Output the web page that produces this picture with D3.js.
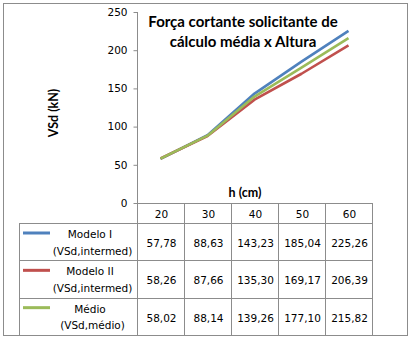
<!DOCTYPE html>
<html>
<head>
<meta charset="utf-8">
<script src="https://cdn.jsdelivr.net/npm/d3@7"></script>
<style>
  html, body { margin: 0; padding: 0; background: #fff; }
  svg { display: block; }
  text { font-family: "DejaVu Sans", sans-serif; fill: #000; }
</style>
</head>
<body>
<svg id="chart" width="413" height="340"></svg>
<script>
// Heights (cm) shown on the category axis / table header
const heights = ["20", "30", "40", "50", "60"];

// Series values (kN)
const modeloI  = [57.78, 88.63, 143.23, 185.04, 225.26];
const modeloII = [58.26, 87.66, 135.30, 169.17, 206.39];
const medio    = [58.02, 88.14, 139.26, 177.10, 215.82];

// Series labels (two lines each) and colours
const seriesNames = [["Modelo I", "(VSd,intermed)"], ["Modelo II", "(VSd,intermed)"], ["Médio", "(VSd,médio)"]];
const seriesColors = ["#4F81BD", "#C0504D", "#9BBB59"];

const yTicks = [0, 50, 100, 150, 200, 250];

const titleLines = ["Força cortante solicitante de", "cálculo média x Altura"];
const yTitle = "VSd (kN)";
const xTitle = "h (cm)";

const series = [modeloI, modeloII, medio].map((values, i) => ({
  values, name: seriesNames[i], color: seriesColors[i]
}));

const fmt = v => v.toFixed(2).replace(".", ",");

const svg = d3.select("#chart");
const gridColor = "#8c8c8c";

// Layout
const plotLeft = 137, plotRight = 372, plotTop = 12, plotBottom = 203;
const tableLeft = 19, headerBottom = 223, tableBottom = 335;
const rowH = (tableBottom - headerBottom) / series.length;

const x = d3.scaleBand().domain(heights).range([plotLeft, plotRight]).padding(0);
const y = d3.scaleLinear().domain([0, 250]).range([plotBottom, plotTop]);

// Outer chart border
svg.append("rect")
  .attr("x", 3.5).attr("y", 3.5).attr("width", 404).attr("height", 332)
  .attr("fill", "#fff").attr("stroke", gridColor).attr("stroke-width", 1);

// Y axis
const yAxis = d3.axisLeft(y).tickValues(yTicks).tickSize(4).tickPadding(6).tickFormat(d3.format("d"));
const gy = svg.append("g").attr("transform", `translate(${plotLeft + 0.5},0)`).call(yAxis);
gy.select(".domain").attr("stroke", gridColor).attr("d", `M0,${plotTop}V${tableBottom}`);
gy.selectAll(".tick line").attr("stroke", gridColor);
gy.selectAll(".tick text").style("font-family", "DejaVu Sans").style("font-size", "10.5px").attr("fill", "#000");

// Table grid
const tg = svg.append("g").attr("stroke", gridColor).attr("stroke-width", 1).attr("shape-rendering", "crispEdges");
// x axis / header top
tg.append("line").attr("x1", plotLeft).attr("x2", plotRight).attr("y1", plotBottom + 0.5).attr("y2", plotBottom + 0.5);
// horizontal row lines
for (let i = 0; i <= series.length; i++) {
  const yy = Math.round(headerBottom + i * rowH) + 0.5;
  tg.append("line").attr("x1", tableLeft).attr("x2", plotRight).attr("y1", yy).attr("y2", yy);
}
// vertical column lines
heights.forEach(h => {
  const xx = Math.round(x(h) + x.bandwidth()) + 0.5;
  tg.append("line").attr("x1", xx).attr("x2", xx).attr("y1", plotBottom).attr("y2", tableBottom);
});
tg.append("line").attr("x1", tableLeft + 0.5).attr("x2", tableLeft + 0.5).attr("y1", headerBottom).attr("y2", tableBottom);

// Header labels
svg.append("g").selectAll("text").data(heights).join("text")
  .attr("x", d => x(d) + x.bandwidth() / 2 + 1)
  .attr("y", 218)
  .attr("text-anchor", "middle")
  .style("font-size", "10.5px")
  .text(d => d);

// Table rows
series.forEach((s, i) => {
  const top = headerBottom + i * rowH;
  const row = svg.append("g");
  row.append("line")
    .attr("x1", 23).attr("x2", 50)
    .attr("y1", top + 10).attr("y2", top + 10)
    .attr("stroke", s.color).attr("stroke-width", 3);
  row.append("text").attr("x", 90).attr("y", top + 15)
    .attr("text-anchor", "middle").style("font-size", "10.5px").text(s.name[0]);
  row.append("text").attr("x", 92.5).attr("y", top + 31.5)
    .attr("text-anchor", "middle").style("font-size", "10.5px").text(s.name[1]);
  row.selectAll("text.val").data(s.values).join("text").attr("class", "val")
    .attr("x", (d, j) => x(heights[j]) + x.bandwidth() / 2 + 1)
    .attr("y", top + 24)
    .attr("text-anchor", "middle")
    .style("font-size", "10.5px")
    .text(d => fmt(d));
});

// Lines
const line = d3.line()
  .x((d, j) => x(heights[j]) + x.bandwidth() / 2)
  .y(d => y(d));
svg.append("g").selectAll("path").data(series).join("path")
  .attr("d", d => line(d.values))
  .attr("fill", "none")
  .attr("stroke", d => d.color)
  .attr("stroke-width", 2.6)
  .attr("stroke-linejoin", "round");

// Title
svg.append("g").selectAll("text").data(titleLines).join("text")
  .attr("x", 243).attr("y", (d, i) => 27 + i * 20)
  .attr("text-anchor", "middle")
  .style("font-family", "Lato, sans-serif")
  .style("font-weight", "bold")
  .style("font-size", "15px")
  .text(d => d);

// Axis titles
svg.append("text")
  .attr("transform", "translate(58,113) rotate(-90)")
  .attr("text-anchor", "middle")
  .style("font-family", "Lato, sans-serif")
  .style("font-weight", "bold")
  .style("font-size", "12.5px")
  .text(yTitle);

svg.append("text")
  .attr("x", 245).attr("y", 197)
  .attr("text-anchor", "middle")
  .style("font-family", "Lato, sans-serif")
  .style("font-weight", "bold")
  .style("font-size", "12.5px")
  .text(xTitle);
</script>
</body>
</html>
